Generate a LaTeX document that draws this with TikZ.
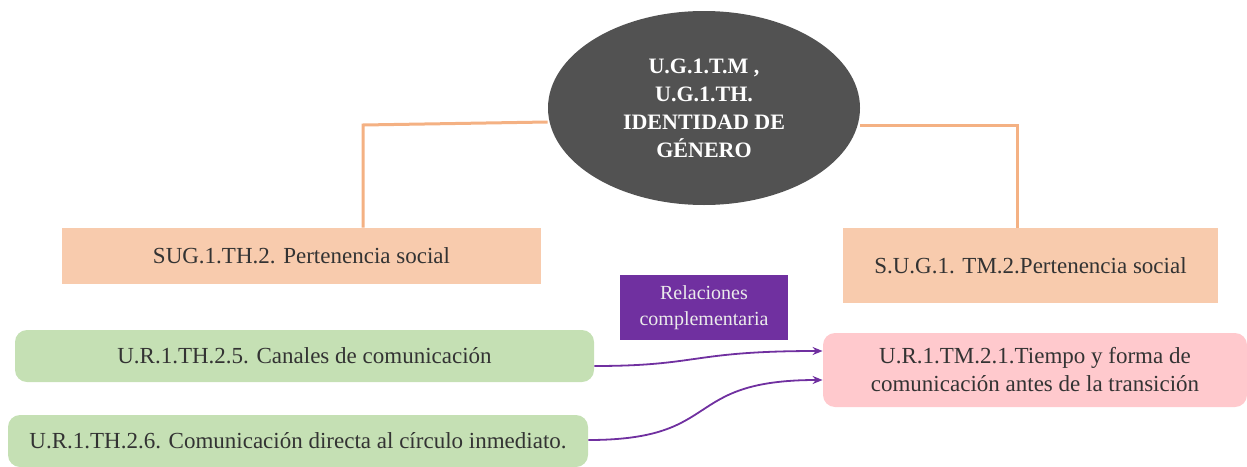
\documentclass[tikz,border=0pt]{standalone}
\usepackage{fontspec}
\setmainfont{Liberation Serif}
\usetikzlibrary{shapes.geometric,arrows.meta}
\definecolor{peach}{HTML}{F8CBAD}
\definecolor{peachline}{HTML}{F4B183}
\definecolor{leaf}{HTML}{C5E0B4}
\definecolor{rose}{HTML}{FFC9CD}
\definecolor{violet}{HTML}{7030A0}
\definecolor{slate}{HTML}{525252}
\tikzset{
  subbox/.style={rectangle, fill=peach, text=black!80, font=\fontsize{11.5}{14}\selectfont},
  unitbox/.style={rectangle, rounded corners=6pt, fill=leaf, text=black!80, font=\fontsize{11.5}{14}\selectfont},
  link/.style={->, >={Stealth[length=5pt,width=4pt]}, violet, line width=0.9pt},
  branch/.style={peachline, line width=1.5pt}
}
\begin{document}
\begin{tikzpicture}[x=0.5pt, y=-0.5pt]
				\useasboundingbox (0,0) rectangle (1247,466);

				% Category
				\node[ellipse, fill=slate, minimum width=156pt, minimum height=97pt, align=center, text=white, font=\fontsize{11}{14}\selectfont\bfseries] (cat) at (704,108) {U.G.1.T.M ,\\U.G.1.TH.\\IDENTIDAD DE\\GÉNERO};

				% Subcategories
				\node[subbox, minimum width=239.5pt, minimum height=28pt] (subth) at (301.5,256) {SUG.1.TH.2. Pertenencia social};
				\node[subbox, minimum width=187.5pt, minimum height=37.5pt] (subtm) at (1030.5,265.5) {S.U.G.1. TM.2.Pertenencia social};

				% Branches
				\draw[branch] (cat.west |- 0,122) -- (363,125) -- (subth.north -| 363,0);
				\draw[branch] (cat.east |- 0,125) -- (1017,125) -- (subtm.north -| 1017,0);

				% Relation label
				\node[rectangle, fill=violet, minimum width=84pt, minimum height=32.5pt, align=center, text=white!92!black, font=\fontsize{10}{13}\selectfont] (rel) at (704,307.5) {Relaciones\\complementaria};

				% Units
				\node[unitbox, minimum width=289.5pt, minimum height=26pt] (ur5) at (304.5,356) {U.R.1.TH.2.5. Canales de comunicación};
				\node[unitbox, minimum width=290pt, minimum height=26pt] (ur6) at (298,441) {U.R.1.TH.2.6. Comunicación directa al círculo inmediato.};
				\node[unitbox, fill=rose, minimum width=212pt, minimum height=37pt, align=center] (urtm) at (1035,370) {U.R.1.TM.2.1.Tiempo y forma de\\comunicación antes de la transición};

				% Relations
				\draw[link] (ur5.east |- 0,366) .. controls (700,366) and (690,351) .. (urtm.west |- 0,351);
				\draw[link] (ur6.east |- 0,440) .. controls (725,440) and (680,380) .. (urtm.west |- 0,380);
			\end{tikzpicture}
\end{document}
